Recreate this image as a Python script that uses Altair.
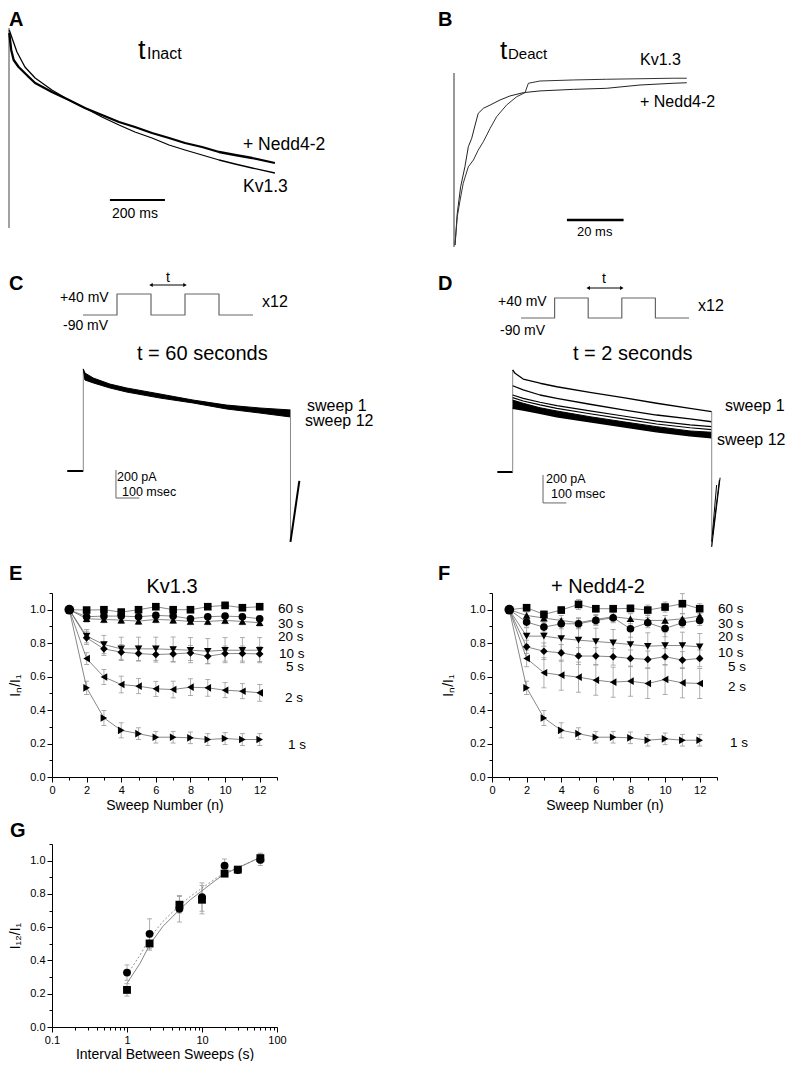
import altair as alt
import pandas as pd

FONT = "Liberation Sans"

# ===================== DATA =====================
# --- Panel A: inactivation traces (time ms, current normalised to peak)
A_KV_T = [1, 11, 29, 58, 95, 156, 218, 276, 338, 400, 458, 520, 582, 640, 702, 764, 822, 884, 967]
A_KV_I = [0.99, 0.95, 0.88, 0.805, 0.75, 0.69, 0.64, 0.60, 0.555, 0.515, 0.48, 0.45, 0.415, 0.39,
          0.365, 0.34, 0.32, 0.30, 0.275]
A_NEDD_T = [1, 8, 17, 35, 72, 95, 156, 218, 276, 338, 400, 458, 520, 582, 640, 702, 764, 822, 884, 967]
A_NEDD_I = [0.975, 0.89, 0.84, 0.805, 0.755, 0.725, 0.68, 0.64, 0.60, 0.565, 0.53, 0.505, 0.475, 0.45,
            0.425, 0.405, 0.38, 0.365, 0.35, 0.325]
A_ONSET = [0.0, 1.0]
A_BAR_T = [367, 567]          # 200 ms
A_BAR_I = 0.14

# --- Panel B: deactivation (tail) traces (time ms, normalised current)
B_KV_T = [0, 0.8, 1.8, 2.9, 4.7, 6.5, 8.2, 10, 12.4, 14.7, 18.2, 21.8, 24.7, 25.9, 30, 41.8, 53.5, 65.3, 77, 81.8]
B_KV_I = [0.011, 0.174, 0.27, 0.366, 0.461, 0.5, 0.557, 0.605, 0.682, 0.749, 0.816, 0.864, 0.887, 0.941,
          0.954, 0.96, 0.964, 0.967, 0.97, 0.97]
B_NEDD_T = [0, 0.8, 2, 3.5, 4.7, 5.9, 7.1, 8.2, 10, 12.4, 15.9, 19.4, 24.1, 30, 41.8, 53.5, 65.3, 77, 81.8]
B_NEDD_I = [0.011, 0.194, 0.347, 0.461, 0.576, 0.625, 0.701, 0.768, 0.797, 0.816, 0.845, 0.868, 0.887,
            0.897, 0.906, 0.912, 0.931, 0.941, 0.944]
B_ONSET_T = -0.35
B_ONSET = [0.0, 1.0]
B_BAR_T = [39.5, 59.5]        # 20 ms
B_BAR_I = 0.155

# --- Panel C: 12 sweeps, t = 60 s (time ms, current pA)
C_T = [0, 7, 43, 114, 186, 329, 470, 614, 757, 888]
C_TOP = [729, 700, 664, 621, 593, 550, 507, 471, 450, 436]      # sweep 1 edge
C_BOT = [729, 650, 629, 593, 564, 521, 486, 443, 414, 386]      # sweep 12 edge
C_BASE_T = [-69, 0]
C_DROP = [436, -507]
C_SPIKE_T = [888, 926]
C_SPIKE_I = [-507, -71]
C_BAR = (140, -193)

# --- Panel D: 12 sweeps, t = 2 s
D_S1_T = [0, 10, 45, 117, 189, 331, 474, 617, 760, 853]
D_S1 = [729, 705, 664, 634, 609, 569, 531, 491, 455, 431]
D_T = [0, 45, 117, 189, 331, 474, 617, 760, 853]
D_S2 = [616, 586, 550, 526, 484, 443, 407, 379, 359]
D_S3 = [550, 526, 498, 474, 436, 400, 364, 336, 324]
D_S4 = [531, 507, 479, 455, 416, 379, 343, 316, 302]
D_BAND_TOP = [514, 491, 459, 436, 395, 359, 324, 293, 284]
D_BAND_BOT = [455, 443, 419, 395, 359, 324, 288, 259, 245]
D_BASE_T = [-66, 0]
D_DROP = [431, -536]
D_SPIKES = [(853, -534, 889, -41), (857, -450, 886, -57), (853, -498, 874, -93)]
D_BAR = (130, -221)

# --- voltage protocol (schematic steps, mV)
PROTO_T = [0, 1, 1, 2, 2, 3, 3, 4, 4, 5]
PROTO_MV = [-90, -90, 40, 40, -90, -90, 40, 40, -90, -90]
ARROW_T = [2, 3]

# --- Panels E / F: I_n / I_1 vs sweep number
SWEEPS = list(range(1, 13))
SERIES = ["60 s", "30 s", "20 s", "10 s", "5 s", "2 s", "1 s"]
SHAPES = ["square", "circle", "triangle-up", "triangle-down", "diamond", "triangle-left", "triangle-right"]

E_VALS = {
    "60 s": [1.0, 0.998, 1.0, 0.986, 1.0, 1.018, 1.0, 1.0, 1.018, 1.026, 1.012, 1.018],
    "30 s": [1.0, 0.958, 0.962, 0.962, 0.958, 0.966, 0.962, 0.946, 0.958, 0.962, 0.958, 0.946],
    "20 s": [1.0, 0.946, 0.942, 0.938, 0.932, 0.942, 0.938, 0.930, 0.930, 0.936, 0.930, 0.922],
    "10 s": [1.0, 0.842, 0.792, 0.766, 0.766, 0.766, 0.762, 0.758, 0.752, 0.758, 0.758, 0.758],
    "5 s":  [1.0, 0.832, 0.766, 0.746, 0.738, 0.732, 0.736, 0.742, 0.722, 0.738, 0.738, 0.736],
    "2 s":  [1.0, 0.708, 0.598, 0.553, 0.543, 0.527, 0.523, 0.537, 0.533, 0.519, 0.513, 0.503],
    "1 s":  [1.0, 0.533, 0.353, 0.279, 0.259, 0.238, 0.238, 0.234, 0.224, 0.230, 0.224, 0.224],
}
E_ERRS = {
    "60 s": [0, .01, .012, .012, .012, .012, .01, .012, .015, .02, .015, .015],
    "30 s": [0, .015, .015, .015, .015, .015, .015, .015, .015, .015, .015, .015],
    "20 s": [0, .02, .02, .02, .02, .02, .02, .02, .02, .02, .02, .02],
    "10 s": [0, .04, .055, .07, .07, .07, .075, .075, .075, .075, .075, .075],
    "5 s":  [0, .04, .04, .045, .045, .045, .045, .045, .045, .045, .045, .045],
    "2 s":  [0, .035, .045, .05, .045, .045, .05, .05, .05, .045, .045, .05],
    "1 s":  [0, .04, .045, .045, .035, .035, .035, .035, .035, .035, .035, .035],
}
F_VALS = {
    "60 s": [1.0, 1.012, 0.972, 0.998, 1.032, 1.006, 1.006, 1.008, 0.998, 1.016, 1.036, 1.006],
    "30 s": [1.0, 0.926, 0.896, 0.916, 0.916, 0.936, 0.952, 0.886, 0.922, 0.888, 0.922, 0.936],
    "20 s": [1.0, 0.966, 0.95, 0.936, 0.922, 0.942, 0.958, 0.946, 0.936, 0.936, 0.946, 0.962],
    "10 s": [1.0, 0.842, 0.842, 0.828, 0.818, 0.81, 0.802, 0.792, 0.782, 0.786, 0.786, 0.778],
    "5 s":  [1.0, 0.778, 0.752, 0.742, 0.723, 0.723, 0.719, 0.709, 0.703, 0.719, 0.699, 0.709],
    "2 s":  [1.0, 0.709, 0.623, 0.609, 0.597, 0.579, 0.567, 0.573, 0.559, 0.583, 0.563, 0.559],
    "1 s":  [1.0, 0.533, 0.353, 0.279, 0.259, 0.238, 0.238, 0.234, 0.22, 0.228, 0.22, 0.22],
}
F_ERRS = {
    "60 s": [0, .02, .02, .02, .03, .02, .02, .02, .03, .03, .06, .03],
    "30 s": [0, .03, .03, .03, .03, .03, .03, .05, .03, .05, .03, .03],
    "20 s": [0, .02, .03, .03, .03, .03, .03, .03, .03, .03, .03, .03],
    "10 s": [0, .05, .06, .07, .08, .08, .08, .08, .08, .08, .08, .08],
    "5 s":  [0, .04, .05, .05, .05, .05, .05, .05, .05, .05, .05, .05],
    "2 s":  [0, .05, .09, .09, .09, .09, .09, .09, .09, .09, .09, .09],
    "1 s":  [0, .04, .045, .045, .035, .035, .035, .035, .035, .035, .035, .035],
}

# --- Panel G: I_12 / I_1 vs interval
G_INTERVALS = [1, 2, 5, 10, 20, 30, 60]
G_KV = [0.223, 0.502, 0.735, 0.765, 0.922, 0.946, 1.015]
G_KV_ERR = [0.037, 0.04, 0.05, 0.085, 0.01, 0.01, 0.03]
G_NEDD = [0.327, 0.56, 0.711, 0.781, 0.97, 0.944, 1.005]
G_NEDD_ERR = [0.046, 0.09, 0.08, 0.085, 0.04, 0.01, 0.035]
G_FIT_X = [1, 1.5, 2, 3, 5, 7, 10, 15, 20, 30, 60]
G_FIT_KV = [0.263, 0.384, 0.494, 0.604, 0.705, 0.765, 0.819, 0.88, 0.92, 0.956, 1.02]
G_FIT_NEDD = [0.313, 0.434, 0.534, 0.634, 0.731, 0.785, 0.835, 0.89, 0.926, 0.958, 1.02]
G_TICKS = [round(m * 10 ** e, 3) for e in (-1, 0, 1) for m in range(1, 10)] + [100]
SWEEP_TICKS = list(range(0, 14))
RATIO_TICKS = [round(i * 0.1, 1) for i in range(12)]

# ===================== LAYOUT =====================
# cells: (page x, page y, width, height) of each plot area
ROW_GAP = 67
CELL_A = (52, 8, 380, 200)
CELL_B = (492, 8, 225, 200)
CELL_C = (52, 8 + 200 + ROW_GAP, 380, 593 - ROW_GAP - (8 + 200 + ROW_GAP))
CELL_D = (492, CELL_C[1], 225, CELL_C[3])
CELL_E = (52, 593, 225, 184)
CELL_F = (492, 593, 225, 184)
CELL_G = (52, 593 + 184 + ROW_GAP, 225, 183)

# calibration (value0, page0, value1, page1)
A_XC, A_YC = (0, 9, 200, 64), (0, 228, 1, 28)
B_XC, B_YC = (0, 455, 20, 511.67), (0, 247, 1, 73)
C_XC, C_YC = (0, 83.3, 100, 106.63), (0, 471, 200, 443)
D_XC, D_YC = (0, 512.7, 100, 536.03), (0, 472, 200, 444)
CP_XC, CP_YC = (0, 83, 5, 253), (-90, 315, 40, 294)
DP_XC, DP_YC = (0, 521, 5, 689), (-90, 318, 40, 298)


def cal(v0, p0, v1, p1):
    k = (v1 - v0) / (p1 - p0)
    return lambda p: v0 + (p - p0) * k


def doms(cell, xc, yc):
    ox, oy, w, h = cell
    fx, fy = cal(*xc), cal(*yc)
    return [fx(ox), fx(ox + w)], [fy(oy + h), fy(oy)]


def ex(f, d):
    return alt.X(f"{f}:Q", scale=alt.Scale(domain=d, nice=False, zero=False), axis=None)


def ey(f, d):
    return alt.Y(f"{f}:Q", scale=alt.Scale(domain=d, nice=False, zero=False), axis=None)


def line(xs, ys, xd, yd, **mk):
    df = pd.DataFrame({"x": xs, "y": ys, "i": list(range(len(xs)))})
    return alt.Chart(df).mark_line(strokeJoin="round", **mk).encode(
        x=ex("x", xd), y=ey("y", yd), order=alt.Order("i:Q"))


def seg(x1, y1, x2, y2, xd, yd, **mk):
    df = pd.DataFrame({"x": x1, "y": y1, "x2": x2, "y2": y2})
    return alt.Chart(df).mark_rule(**mk).encode(x=ex("x", xd), y=ey("y", yd), x2="x2:Q", y2="y2:Q")


def band(xs, top, bot, xd, yd, **mk):
    df = pd.DataFrame({"x": xs, "y": top, "y2": bot})
    return alt.Chart(df).mark_area(**mk).encode(x=ex("x", xd), y=ey("y", yd), y2="y2:Q")


DUMMY = pd.DataFrame({"k": [0]})


def label(text, px, py, cell, size=14, weight="normal", align="left", baseline="alphabetic", color="black"):
    return alt.Chart(DUMMY).mark_text(
        text=text, font=FONT, fontSize=size, fontWeight=weight, align=align, baseline=baseline, color=color
    ).encode(x=alt.value(px - cell[0]), y=alt.value(py - cell[1]))


def protocol(cell, xc, yc, arrow_py):
    xd, yd = doms(cell, xc, yc)
    steps = line(PROTO_T, PROTO_MV, xd, yd, color="#666", strokeWidth=1.2)
    adf = pd.DataFrame({"x": [ARROW_T[0]], "x2": [ARROW_T[1]]})
    arr = alt.Chart(adf).mark_rule(color="black", strokeWidth=1).encode(
        x=ex("x", xd), x2="x2:Q", y=alt.value(arrow_py - cell[1]))
    hdf = pd.DataFrame({"x": ARROW_T, "s": ["triangle-left", "triangle-right"]})
    heads = alt.Chart(hdf).mark_point(filled=True, color="black", size=16, opacity=1).encode(
        x=ex("x", xd), y=alt.value(arrow_py - cell[1]), shape=alt.Shape("s:N", scale=None))
    return alt.layer(steps, arr, heads)


# ===================== PANEL A =====================
xd, yd = doms(CELL_A, A_XC, A_YC)
pA = alt.layer(
    seg([0], [A_ONSET[0]], [0], [A_ONSET[1]], xd, yd, color="#444", strokeWidth=1),
    line(A_NEDD_T, A_NEDD_I, xd, yd, color="black", strokeWidth=2.3),
    line(A_KV_T, A_KV_I, xd, yd, color="black", strokeWidth=1.3),
    seg([A_BAR_T[0]], [A_BAR_I], [A_BAR_T[1]], [A_BAR_I], xd, yd, color="black", strokeWidth=2),
    label("A", 9, 26, CELL_A, size=20, weight="bold"),
    label("t", 138, 59, CELL_A, size=27),
    label("Inact", 147, 59, CELL_A, size=16),
    label("+ Nedd4-2", 243, 150, CELL_A, size=17.5),
    label("Kv1.3", 243, 192, CELL_A, size=17.5),
    label("200 ms", 112, 218, CELL_A, size=14),
).properties(width=CELL_A[2], height=CELL_A[3])

# ===================== PANEL B =====================
xd, yd = doms(CELL_B, B_XC, B_YC)
pB = alt.layer(
    seg([B_ONSET_T], [B_ONSET[0]], [B_ONSET_T], [B_ONSET[1]], xd, yd, color="#333", strokeWidth=1),
    line(B_NEDD_T, B_NEDD_I, xd, yd, color="#222", strokeWidth=1),
    line(B_KV_T, B_KV_I, xd, yd, color="#333", strokeWidth=1),
    seg([B_BAR_T[0]], [B_BAR_I], [B_BAR_T[1]], [B_BAR_I], xd, yd, color="black", strokeWidth=2.5),
    label("B", 438, 26, CELL_B, size=20, weight="bold"),
    label("t", 500, 59, CELL_B, size=26),
    label("Deact", 508, 59, CELL_B, size=15),
    label("Kv1.3", 640, 65, CELL_B, size=16),
    label("+ Nedd4-2", 640, 107, CELL_B, size=16),
    label("20 ms", 577, 236, CELL_B, size=13),
).properties(width=CELL_B[2], height=CELL_B[3])

# ===================== PANEL C =====================
xd, yd = doms(CELL_C, C_XC, C_YC)
traceC = alt.layer(
    seg([C_BASE_T[0]], [0], [C_BASE_T[1]], [0], xd, yd, color="black", strokeWidth=2),
    seg([0], [0], [0], [C_TOP[0]], xd, yd, color="#888", strokeWidth=1),
    band(C_T, C_TOP, C_BOT, xd, yd, color="black", opacity=1),
    line(C_T, C_TOP, xd, yd, color="black", strokeWidth=1),
    line(C_T, C_BOT, xd, yd, color="black", strokeWidth=1),
    seg([C_T[-1]], [C_DROP[0]], [C_T[-1]], [C_DROP[1]], xd, yd, color="#888", strokeWidth=1),
    seg([C_SPIKE_T[0]], [C_SPIKE_I[0]], [C_SPIKE_T[1]], [C_SPIKE_I[1]], xd, yd, color="black", strokeWidth=2),
    seg([C_BAR[0]], [C_BAR[1]], [C_BAR[0]], [C_BAR[1] + 200], xd, yd, color="#666", strokeWidth=1),
    seg([C_BAR[0]], [C_BAR[1]], [C_BAR[0] + 100], [C_BAR[1]], xd, yd, color="#666", strokeWidth=1),
)
pC = alt.layer(
    traceC,
    protocol(CELL_C, CP_XC, CP_YC, 285),
    label("C", 9, 290, CELL_C, size=20, weight="bold"),
    label("t", 168, 282, CELL_C, size=14, align="center"),
    label("+40 mV", 60, 302, CELL_C, size=14),
    label("-90 mV", 63, 330, CELL_C, size=14),
    label("x12", 262, 307, CELL_C, size=16),
    label("t = 60 seconds", 137, 360, CELL_C, size=20),
    label("sweep 1", 307, 411, CELL_C, size=16),
    label("sweep 12", 305, 426, CELL_C, size=16),
    label("200 pA", 117, 481, CELL_C, size=12.5),
    label("100 msec", 122, 496, CELL_C, size=12.5),
).resolve_scale(x="independent", y="independent").properties(width=CELL_C[2], height=CELL_C[3])

# ===================== PANEL D =====================
xd, yd = doms(CELL_D, D_XC, D_YC)
traceD_layers = [
    seg([D_BASE_T[0]], [0], [D_BASE_T[1]], [0], xd, yd, color="black", strokeWidth=2),
    seg([0], [0], [0], [D_S1[0]], xd, yd, color="#888", strokeWidth=1),
    band(D_T, D_BAND_TOP, D_BAND_BOT, xd, yd, color="black", opacity=1),
    line(D_T, D_BAND_TOP, xd, yd, color="black", strokeWidth=1),
    line(D_T, D_BAND_BOT, xd, yd, color="black", strokeWidth=1.5),
    line(D_T, D_S4, xd, yd, color="black", strokeWidth=1.2),
    line(D_T, D_S3, xd, yd, color="black", strokeWidth=1.2),
    line(D_T, D_S2, xd, yd, color="black", strokeWidth=1.3),
    line(D_S1_T, D_S1, xd, yd, color="black", strokeWidth=1.3),
    seg([D_S1_T[-1]], [D_DROP[0]], [D_S1_T[-1]], [D_DROP[1]], xd, yd, color="#888", strokeWidth=1),
    seg([s[0] for s in D_SPIKES], [s[1] for s in D_SPIKES], [s[2] for s in D_SPIKES], [s[3] for s in D_SPIKES],
        xd, yd, color="black", strokeWidth=1),
    seg([D_BAR[0]], [D_BAR[1]], [D_BAR[0]], [D_BAR[1] + 200], xd, yd, color="#666", strokeWidth=1),
    seg([D_BAR[0]], [D_BAR[1]], [D_BAR[0] + 100], [D_BAR[1]], xd, yd, color="#666", strokeWidth=1),
]
pD = alt.layer(
    alt.layer(*traceD_layers),
    protocol(CELL_D, DP_XC, DP_YC, 288),
    label("D", 438, 290, CELL_D, size=20, weight="bold"),
    label("t", 604, 283, CELL_D, size=14, align="center"),
    label("+40 mV", 498, 306, CELL_D, size=14),
    label("-90 mV", 500, 335, CELL_D, size=14),
    label("x12", 698, 311, CELL_D, size=16),
    label("t = 2 seconds", 573, 360, CELL_D, size=20),
    label("sweep 1", 725, 411, CELL_D, size=16),
    label("sweep 12", 717, 445, CELL_D, size=16),
    label("200 pA", 546, 483, CELL_D, size=12.5),
    label("100 msec", 551, 498, CELL_D, size=12.5),
).resolve_scale(x="independent", y="independent").properties(width=CELL_D[2], height=CELL_D[3])

# ===================== AXES =====================
AX = dict(domainColor="black", tickColor="black", labelColor="black", titleColor="black", grid=False,
          labelFont=FONT, titleFont=FONT, labelFontSize=11, titleFontSize=14, titleFontWeight="normal",
          domainWidth=1, tickWidth=1, labelPadding=2, labelOverlap=False, labelFlush=False)

x_sweep_axis = alt.Axis(
    values=SWEEP_TICKS,
    labelExpr="datum.value % 2 == 0 && datum.value <= 12 ? datum.label : ''",
    tickSize={"condition": {"test": "datum.value % 2 == 0", "value": 5}, "value": 3},
    titlePadding=3, **AX)


def ratio_axis(pad):
    return alt.Axis(
        values=RATIO_TICKS,
        labelExpr="round(datum.value * 10) % 2 == 0 ? format(datum.value, '.1f') : ''",
        tickSize={"condition": {"test": "round(datum.value * 10) % 2 == 0", "value": 5}, "value": 3},
        titlePadding=pad, **AX)


x_log_axis = alt.Axis(
    values=G_TICKS,
    labelExpr="abs(log(datum.value) / LN10 - round(log(datum.value) / LN10)) < 0.001 ? format(datum.value, '~g') : ''",
    tickSize={"condition": {"test": "abs(log(datum.value) / LN10 - round(log(datum.value) / LN10)) < 0.001",
                            "value": 5}, "value": 3},
    titlePadding=2, **AX)

LINE_C = "#555"
ERR_C = "#9a9a9a"


def sweep_panel(vals, errs, cell, letter_x, title, title_cx, lab_pos, ytitle_pad):
    rows = []
    for s in SERIES:
        for n, v, e in zip(SWEEPS, vals[s], errs[s]):
            rows.append({"series": s, "n": n, "v": v, "e": e, "lo": round(v - e, 4), "hi": round(v + e, 4)})
    df = pd.DataFrame(rows)
    X = alt.X("n:Q", scale=alt.Scale(domain=[0, 13], nice=False, zero=False), axis=x_sweep_axis,
              title="Sweep Number (n)")
    yax = ratio_axis(ytitle_pad)

    def Y(f):
        return alt.Y(f"{f}:Q", scale=alt.Scale(domain=[0, 1.1], nice=False, zero=False), axis=yax,
                     title="Iₙ/I₁")

    base = alt.Chart(df)
    witherr = base.transform_filter("datum.e > 0")
    layers = [
        witherr.mark_rule(color=ERR_C, strokeWidth=0.8).encode(x=X, y=Y("lo"), y2="hi:Q"),
        witherr.mark_tick(orient="horizontal", size=5, thickness=0.8, color=ERR_C, opacity=1).encode(x=X, y=Y("lo")),
        witherr.mark_tick(orient="horizontal", size=5, thickness=0.8, color=ERR_C, opacity=1).encode(x=X, y=Y("hi")),
        base.mark_line(color=LINE_C, strokeWidth=0.7, strokeJoin="round").encode(x=X, y=Y("v"), detail="series:N"),
        base.transform_filter("datum.n > 1").mark_point(filled=True, color="black", size=58, opacity=1).encode(
            x=X, y=Y("v"), shape=alt.Shape("series:N", scale=alt.Scale(domain=SERIES, range=SHAPES), legend=None)),
        base.transform_filter(f"datum.n == 1 && datum.series == '{SERIES[0]}'").mark_point(
            filled=True, color="black", size=95, opacity=1, shape="circle").encode(x=X, y=Y("v")),
    ]
    layers.append(label(letter_x[0], letter_x[1], 580, cell, size=20, weight="bold"))
    layers.append(label(title, title_cx, 593, cell, size=20, align="center"))
    for s, (px, py) in zip(SERIES, lab_pos):
        layers.append(label(s, px, py, cell, size=13.5, baseline="middle"))
    return alt.layer(*layers).properties(width=cell[2], height=cell[3])


pE = sweep_panel(E_VALS, E_ERRS, CELL_E, ("E", 9), "Kv1.3", 172,
                 [(278, 609), (278, 624), (278, 637), (279, 654), (286, 667), (285, 698), (288, 745)], 7)
pF = sweep_panel(F_VALS, F_ERRS, CELL_F, ("F", 438), "+ Nedd4-2", 598,
                 [(718, 609), (718, 624), (718, 637), (718, 653), (728, 667), (728, 687), (730, 743)], 14)

# ===================== PANEL G =====================
grows = []
for grp, vals_, errs_ in (("Kv1.3", G_KV, G_KV_ERR), ("+ Nedd4-2", G_NEDD, G_NEDD_ERR)):
    for x, v, e in zip(G_INTERVALS, vals_, errs_):
        grows.append({"grp": grp, "x": x, "v": v, "lo": round(v - e, 4), "hi": round(v + e, 4)})
gdf = pd.DataFrame(grows)
fdf = pd.DataFrame({"x": G_FIT_X * 2, "v": G_FIT_KV + G_FIT_NEDD,
                    "grp": ["Kv1.3"] * len(G_FIT_X) + ["+ Nedd4-2"] * len(G_FIT_X)})
GX = alt.X("x:Q", scale=alt.Scale(type="log", domain=[0.1, 100], nice=False), axis=x_log_axis,
           title="Interval Between Sweeps (s)")
g_yax = ratio_axis(7)


def GY(f):
    return alt.Y(f"{f}:Q", scale=alt.Scale(domain=[0, 1.1], nice=False, zero=False), axis=g_yax,
                 title="I₁₂/I₁")


gbase = alt.Chart(gdf)
pG = alt.layer(
    gbase.mark_rule(color=ERR_C, strokeWidth=0.8).encode(x=GX, y=GY("lo"), y2="hi:Q"),
    gbase.mark_tick(orient="horizontal", size=5, thickness=0.8, color=ERR_C, opacity=1).encode(x=GX, y=GY("lo")),
    gbase.mark_tick(orient="horizontal", size=5, thickness=0.8, color=ERR_C, opacity=1).encode(x=GX, y=GY("hi")),
    alt.Chart(fdf).transform_filter("datum.grp == 'Kv1.3'").mark_line(
        color="#666", strokeWidth=0.8, strokeJoin="round").encode(x=GX, y=GY("v")),
    alt.Chart(fdf).transform_filter("datum.grp == '+ Nedd4-2'").mark_line(
        color="#777", strokeWidth=0.8, strokeDash=[2, 2], strokeJoin="round").encode(x=GX, y=GY("v")),
    gbase.mark_point(filled=True, color="black", size=62, opacity=1).encode(
        x=GX, y=GY("v"),
        shape=alt.Shape("grp:N", scale=alt.Scale(domain=["Kv1.3", "+ Nedd4-2"], range=["square", "circle"]),
                        legend=None)),
    label("G", 10, CELL_G[1] - 7, CELL_G, size=20, weight="bold"),
).properties(width=CELL_G[2], height=CELL_G[3])

chart = alt.ConcatChart(
    concat=[pA, pB, pC, pD, pE, pF, pG],
    columns=2,
    spacing={"row": ROW_GAP, "column": 60},
    bounds="flush",
    align="each",
    padding=0,
    background="white",
).configure(font=FONT).configure_view(stroke=None, strokeWidth=0)

chart.save("out.html", embed_options={"renderer": "svg", "actions": False})
